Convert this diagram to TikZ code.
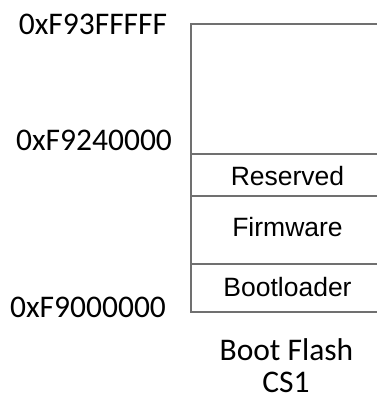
\documentclass[tikz,border=0pt]{standalone}
\usepackage{fontspec}
\setmainfont{Carlito}
\newfontfamily\arialfont{Liberation Sans}
\definecolor{flashgray}{RGB}{112,112,112}

\begin{document}
\begin{tikzpicture}[x=1pt,y=1pt,
    addr/.style={font=\fontsize{31.5}{38}\selectfont, inner sep=0pt},
    part/.style={font=\arialfont\fontsize{26.5}{32}\selectfont, inner sep=0pt},
    memline/.style={draw=flashgray, line width=2pt}]
  \useasboundingbox (0,0) rectangle (376,400);
  % flash map, open on the right
  \draw[memline] (378,376) -- (191,376) -- (191,88) -- (378,88);
  \foreach \y in {246,204,136}
    \draw[memline] (191,\y) -- (378,\y);
  % addresses
  \node[addr] (hiaddr)  at (93,376)   {0xF93FFFFF};
  \node[addr] (midaddr) at (94,259.5) {0xF9240000};
  \node[addr] (loaddr)  at (88,92.5)  {0xF9000000};
  % regions
  \node[part] (reserved) at (287.5,224)   {Reserved};
  \node[part] (firmware) at (287.5,172.5) {Firmware};
  \node[part] (bootldr)  at (287.5,113)   {Bootloader};
  % caption
  \node[addr] (flash) at (286.5,50) {Boot Flash};
  \node[addr] (chipsel) at (286,18) {CS1};
\end{tikzpicture}
\end{document}
